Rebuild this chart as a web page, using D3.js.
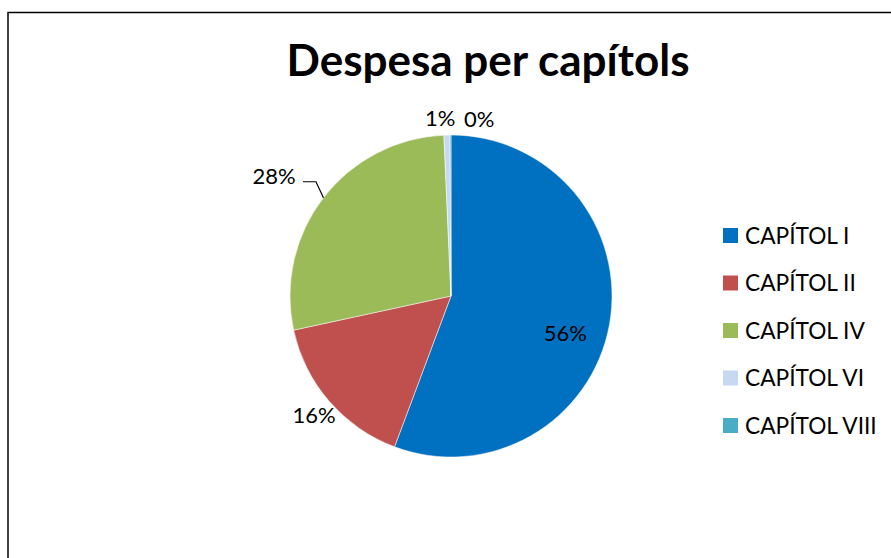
<!DOCTYPE html>
<html>
<head>
<meta charset="utf-8">
<script src="https://cdn.jsdelivr.net/npm/d3@7"></script>
<style>
  html, body { margin: 0; padding: 0; background: #fff; }
  svg { display: block; }
</style>
</head>
<body>
<svg id="chart" width="891" height="558"></svg>
<script>
const title = "Despesa per capítols";
const categories = ["CAPÍTOL I", "CAPÍTOL II", "CAPÍTOL IV", "CAPÍTOL VI", "CAPÍTOL VIII"];
const values = [55.7, 15.9, 27.7, 0.6, 0.1];
const colors = ["#0070C0", "#C0504D", "#9BBB59", "#C6D9F1", "#4BACC6"];

const svg = d3.select("#chart");
const W = 891, H = 558;
const font = "Lato, 'Open Sans', sans-serif";

// chart frame
svg.append("rect")
  .attr("x", 8).attr("y", 12.5).attr("width", W + 10).attr("height", H + 10)
  .attr("fill", "#fff").attr("stroke", "#000").attr("stroke-width", 1.5);

// title
svg.append("text")
  .attr("x", 488).attr("y", 76)
  .attr("text-anchor", "middle")
  .attr("font-family", font).attr("font-weight", "bold")
  .attr("font-size", 44).attr("fill", "#000")
  .text(title);

const cx = 451, cy = 296, R = 161;
const total = d3.sum(values);
const pie = d3.pie().sort(null).value(d => d)(values);
const arc = d3.arc().innerRadius(0).outerRadius(R);

const g = svg.append("g").attr("transform", `translate(${cx},${cy})`);
g.selectAll("path.slice").data(pie).join("path")
  .attr("class", "slice")
  .attr("d", arc)
  .attr("fill", (d, i) => colors[i])
  .attr("stroke", "#fff").attr("stroke-width", 0.5);

// labels
const pct = d => Math.round(d.value / total * 100) + "%";
const mid = d => (d.startAngle + d.endAngle) / 2;
const labelCfg = [
  { r: 120, da: 0.13 },               // inside
  { r: 181, da: 0 },                  // outside
  { r: 214, da: -0.06, leader: true },
  { r: 179, da: -0.035 },
  { r: 180, da: 0.16 }
];
pie.forEach((d, i) => {
  const c = labelCfg[i];
  const a = mid(d) + c.da;
  const x = Math.sin(a) * c.r, y = -Math.cos(a) * c.r;
  g.append("text")
    .attr("x", x).attr("y", y)
    .attr("text-anchor", "middle").attr("dominant-baseline", "central")
    .attr("font-family", font).attr("font-size", 22).attr("fill", "#000")
    .text(pct(d));
  if (c.leader) {
    const m = mid(d);
    const px = Math.sin(m) * R, py = -Math.cos(m) * R;
    const tx = x + 29, ty = y + 6;
    g.append("polyline")
      .attr("points", `${tx},${ty} ${tx + 13},${ty} ${px},${py}`)
      .attr("fill", "none").attr("stroke", "#000").attr("stroke-width", 1.2);
  }
});

// legend
const ly = d3.scalePoint().domain(categories).range([235, 425]);
const lg = svg.append("g");
categories.forEach((c, i) => {
  lg.append("rect")
    .attr("x", 723).attr("y", ly(c) - 7).attr("width", 15).attr("height", 15)
    .attr("fill", colors[i]);
  lg.append("text")
    .attr("x", 745).attr("y", ly(c))
    .attr("dominant-baseline", "central")
    .attr("font-family", font).attr("font-size", 22.7).attr("fill", "#000")
    .text(c);
});
</script>
</body>
</html>
